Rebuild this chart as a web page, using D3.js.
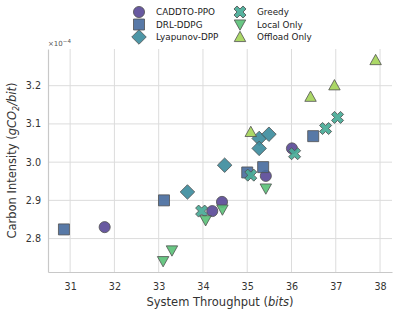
<!DOCTYPE html>
<html>
<head>
<meta charset="utf-8">
<script src="https://cdn.jsdelivr.net/npm/d3@7"></script>
<style>
  body { margin: 0; background: #fff; }
  text { font-family: "DejaVu Sans", sans-serif; }
</style>
</head>
<body>
<div id="chart"></div>
<script>
// series: throughput (bits) and carbon intensity (x1e-4 gCO2/bit)
const caddtoX = [31.78, 34.21, 34.43, 35.42, 36.01];
const caddtoY = [2.830, 2.872, 2.896, 2.964, 3.036];
const ddpgX = [30.86, 33.12, 35.00, 35.36, 36.49];
const ddpgY = [2.824, 2.900, 2.973, 2.987, 3.068];
const lyapX = [33.65, 34.49, 35.27, 35.49, 35.27];
const lyapY = [2.922, 2.992, 3.062, 3.073, 3.036];
const greedyX = [33.97, 35.08, 36.07, 36.77, 37.04];
const greedyY = [2.872, 2.966, 3.022, 3.088, 3.117];
const localX = [33.10, 33.30, 34.06, 34.44, 35.42];
const localY = [2.741, 2.769, 2.848, 2.876, 2.931];
const offloadX = [35.08, 36.43, 36.97, 37.90];
const offloadY = [3.079, 3.171, 3.201, 3.267];

const xTicks = [31, 32, 33, 34, 35, 36, 37, 38];
const yTicks = [2.8, 2.9, 3.0, 3.1, 3.2];

const series = [
  {name: "CADDTO-PPO", xs: caddtoX, ys: caddtoY, shape: "circle", color: "#5b4b98"},
  {name: "DRL-DDPG", xs: ddpgX, ys: ddpgY, shape: "square", color: "#4a6ea0"},
  {name: "Lyapunov-DPP", xs: lyapX, ys: lyapY, shape: "diamond", color: "#3e8d9e"},
  {name: "Greedy", xs: greedyX, ys: greedyY, shape: "cross", color: "#48ab97"},
  {name: "Local Only", xs: localX, ys: localY, shape: "down", color: "#5cc27a"},
  {name: "Offload Only", xs: offloadX, ys: offloadY, shape: "up", color: "#a5d55a"}
];

const W = 397, H = 314;
const margin = {top: 49, right: 5, bottom: 42, left: 48};
const width = W - margin.left - margin.right,
      height = H - margin.top - margin.bottom;

const x = d3.scaleLinear().domain([30.5, 38.27]).range([0, width]);
const y = d3.scaleLinear().domain([2.7126, 3.296]).range([height, 0]);

const SZ = 11;

// marker path generator
function markerPath(shape, s) {
  if (shape === "circle") return d3.symbol(d3.symbolCircle, s * s * 0.8)();
  if (shape === "square") {
    const h = s * 0.5;
    return `M${-h},${-h}H${h}V${h}H${-h}Z`;
  }
  if (shape === "diamond") {
    const h = s * 0.66;
    return `M0,${-h}L${h},0L0,${h}L${-h},0Z`;
  }
  if (shape === "cross") return d3.symbol(d3.symbolCross, s * s * 0.75)();
  if (shape === "down") {
    const h = s * 0.52;
    return `M${-h},${-h * 0.8}L${h},${-h * 0.8}L0,${h}Z`;
  }
  const h = s * 0.52;
  return `M${-h},${h * 0.8}L${h},${h * 0.8}L0,${-h}Z`;
}

const svg = d3.select("#chart").append("svg")
    .attr("width", W).attr("height", H);

const g = svg.append("g")
    .attr("transform", "translate(" + margin.left + "," + margin.top + ")");

// grid
g.append("g").selectAll("line").data(xTicks).join("line")
    .attr("x1", d => x(d)).attr("x2", d => x(d))
    .attr("y1", 0).attr("y2", height)
    .attr("stroke", "#dcdcdc").attr("stroke-width", 1);
g.append("g").selectAll("line").data(yTicks).join("line")
    .attr("x1", 0).attr("x2", width)
    .attr("y1", d => y(d)).attr("y2", d => y(d))
    .attr("stroke", "#dcdcdc").attr("stroke-width", 1);

// axes
const xAxis = g.append("g")
    .attr("transform", "translate(0," + height + ")")
    .call(d3.axisBottom(x).tickValues(xTicks).tickFormat(d3.format("d")).tickSize(0).tickPadding(11));
const yAxis = g.append("g")
    .call(d3.axisLeft(y).tickValues(yTicks).tickFormat(d3.format(".1f")).tickSize(0).tickPadding(7));
[xAxis, yAxis].forEach(a => {
  a.select(".domain").attr("stroke", "#c8c8c8").attr("stroke-width", 1.2);
  a.selectAll("text").attr("font-size", 9.6).attr("fill", "#333");
});

// points
series.forEach(s => {
  const pts = s.xs.map((v, i) => [v, s.ys[i]]);
  g.append("g").selectAll("path").data(pts).join("path")
      .attr("transform", d => "translate(" + x(d[0]) + "," + y(d[1]) + ")" + (s.shape === "cross" ? " rotate(45)" : ""))
      .attr("d", markerPath(s.shape, SZ))
      .attr("fill", s.color)
      .attr("fill-opacity", 0.92)
      .attr("stroke", "#505050")
      .attr("stroke-width", 0.8);
});

// offset text
g.append("text")
    .attr("x", 0).attr("y", -3)
    .attr("font-size", 7).attr("fill", "#555")
    .html('×10<tspan dy="-3" font-size="5.5">−4</tspan>');

// axis labels
svg.append("text")
    .attr("x", margin.left + width / 2).attr("y", 306)
    .attr("text-anchor", "middle").attr("font-size", 11.5).attr("fill", "#333")
    .html('System Throughput (<tspan font-style="italic">bits</tspan>)');

svg.append("text")
    .attr("transform", "translate(16," + (margin.top + height / 2) + ") rotate(-90)")
    .attr("text-anchor", "middle").attr("font-size", 11.5).attr("fill", "#333")
    .html('Carbon Intensity (<tspan font-style="italic">gCO</tspan><tspan font-style="italic" font-size="8" dy="3">2</tspan><tspan font-style="italic" dy="-3">/bit</tspan>)');

// legend
const legend = svg.append("g");
series.forEach((s, i) => {
  const col = Math.floor(i / 3), row = i % 3;
  const lx = 139 + col * 101, ly = 12 + row * 12.5;
  legend.append("path")
      .attr("transform", "translate(" + lx + "," + ly + ")" + (s.shape === "cross" ? " rotate(45)" : ""))
      .attr("d", markerPath(s.shape, SZ))
      .attr("fill", s.color).attr("fill-opacity", 0.92)
      .attr("stroke", "#505050").attr("stroke-width", 0.8);
  legend.append("text")
      .attr("x", lx + 17).attr("y", ly + 3.3)
      .attr("font-size", 8.8).attr("fill", "#222")
      .text(s.name);
});
</script>
</body>
</html>
